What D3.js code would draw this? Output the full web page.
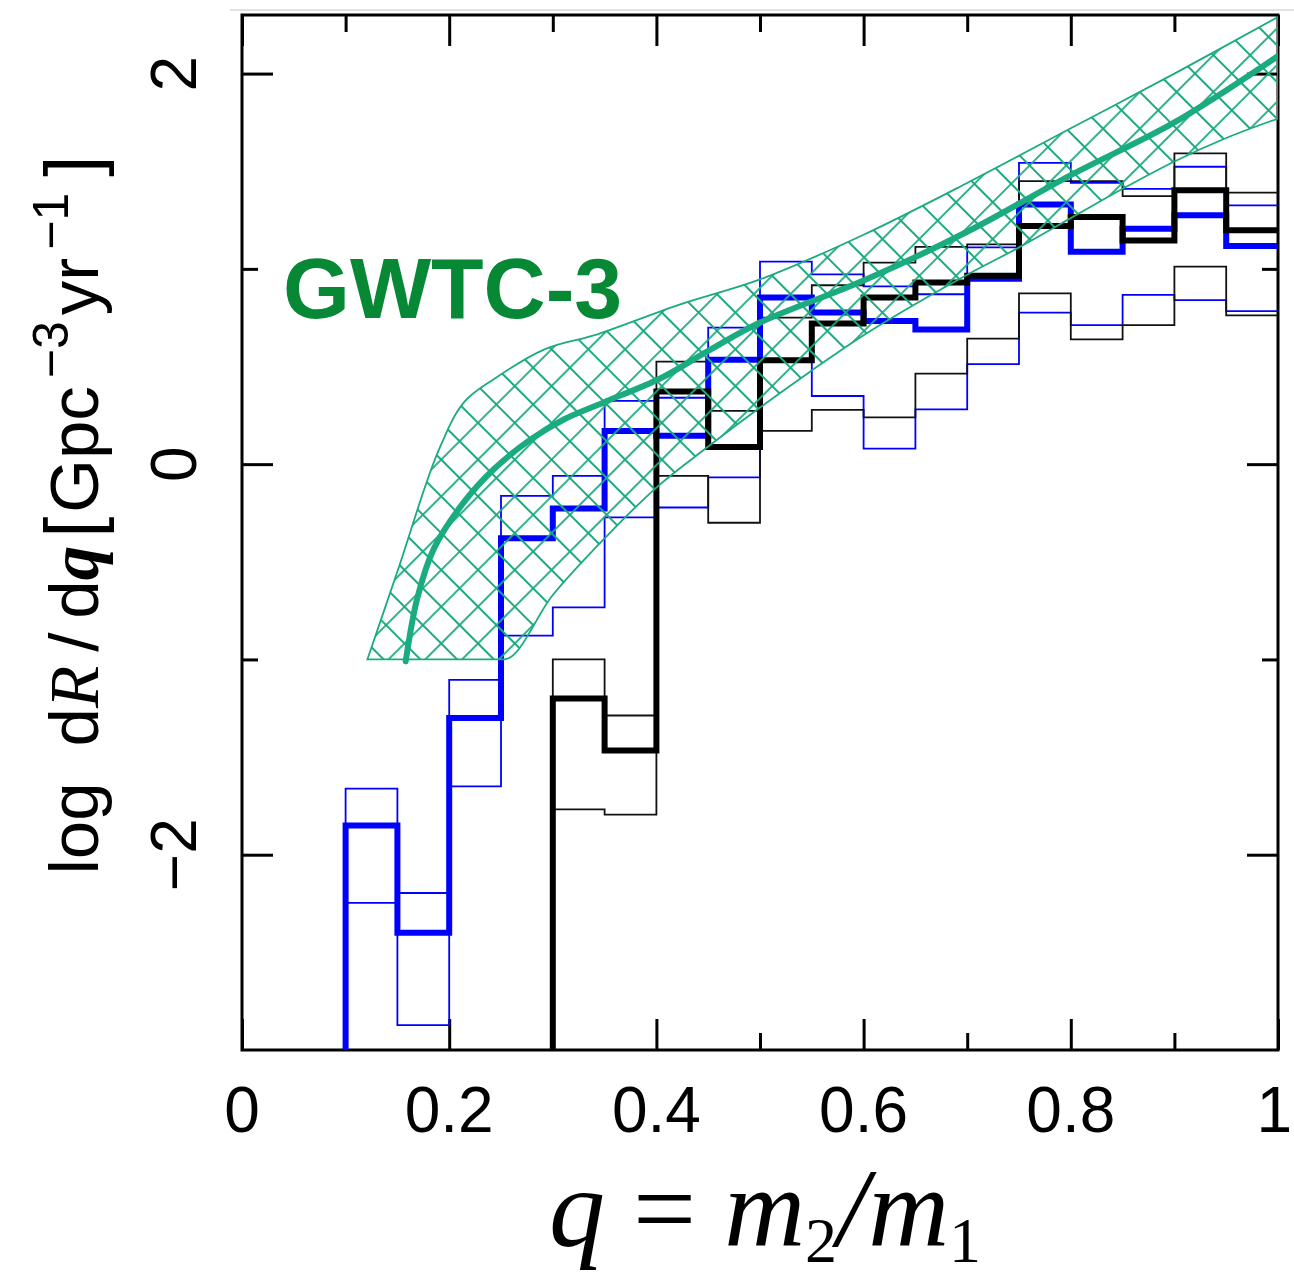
<!DOCTYPE html>
<html><head><meta charset="utf-8">
<script src="https://cdn.jsdelivr.net/npm/d3@7"></script>
<style>body{margin:0;background:#fff}svg{display:block}</style>
</head><body><svg id="c" width="1294" height="1278"></svg>
<script>
// ---------- data ----------
const binWidth = 0.05;
const blueBins = [0.10,0.15,0.20,0.25,0.30,0.35,0.40,0.45,0.50,0.55,0.60,0.65,0.70,0.75,0.80,0.85,0.90,0.95];
const blueMid  = [-1.85,-2.40,-1.30,-0.38,-0.227,0.17,0.145,0.534,0.853,0.776,0.733,0.69,0.95,1.33,1.088,1.205,1.274,1.117];
const blueHi   = [-1.662,-2.196,-1.105,-0.162,-0.06,0.324,0.34,0.699,1.037,0.972,0.91,0.87,1.11,1.543,1.44,1.41,1.523,1.325];
const blueLo   = [-2.247,-2.873,-1.65,-0.878,-0.733,-0.273,-0.222,-0.068,0.53,0.349,0.08,0.281,0.512,0.776,0.712,0.867,0.84,0.784];

const blackBins = [0.30,0.35,0.40,0.45,0.50,0.55,0.60,0.65,0.70,0.75,0.80,0.85,0.90,0.95];
const blackMid  = [-1.20,-1.466,0.372,0.088,0.532,0.72,0.853,0.93,0.965,1.219,1.265,1.145,1.403,1.198];
const blackHi   = [-1.0,-1.287,0.525,0.273,0.75,0.916,1.032,1.113,1.125,1.449,1.449,1.372,1.591,1.39];
const blackLo   = [-1.768,-1.795,-0.06,-0.30,0.17,0.278,0.24,0.464,0.643,0.875,0.639,0.712,1.011,0.762];

// GWTC-3 band
const bandUpQ = [0.121,0.15,0.189,0.214,0.243,0.292,0.343,0.423,0.5,0.6,0.7,0.8,0.9,1.0];
const bandUpV = [-1.0,-0.55,0.06,0.315,0.435,0.588,0.665,0.818,0.946,1.175,1.44,1.72,2.0,2.29];
const bandLoQ = [0.121,0.253,0.3,0.35,0.4,0.45,0.5,0.55,0.6,0.65,0.7,0.75,0.8,0.85,0.9,0.95,1.0];
const bandLoV = [-1.0,-1.0,-0.67,-0.38,-0.12,0.09,0.29,0.48,0.66,0.82,0.97,1.11,1.26,1.41,1.55,1.67,1.77];
const medQ = [0.158,0.169,0.185,0.214,0.243,0.279,0.311,0.349,0.404,0.45,0.5,0.6,0.7,0.8,0.9,1.0];
const medV = [-1.01,-0.69,-0.435,-0.196,-0.026,0.128,0.23,0.316,0.44,0.58,0.725,0.94,1.19,1.48,1.75,2.09];

const xMajor = [0,0.2,0.4,0.6,0.8,1];
const xMinor = [0.1,0.3,0.5,0.7,0.9];
const xLabels = ["0","0.2","0.4","0.6","0.8","1"];
const yMajor = [-2,0,2];
const yMinor = [-1,1];
const yLabels = ["\u22122","0","2"];

// ---------- chart ----------
const svg = d3.select("#c");
const L=242,R=1278,T=15,B=1050;
const x = d3.scaleLinear().domain([0,1]).range([L,R]);
const y = d3.scaleLinear().domain([-3,2.3]).range([B,T]);
const teal = "#1aab80";

const defs = svg.append("defs");
defs.append("clipPath").attr("id","clip").append("rect")
  .attr("x",L).attr("y",T).attr("width",R-L).attr("height",B-T);
const tile = 26;
const pat = defs.append("pattern").attr("id","hatch").attr("patternUnits","userSpaceOnUse")
  .attr("width",tile).attr("height",tile).attr("patternTransform","rotate(45)");
pat.append("path").attr("d",`M${tile/2},0V${tile}M0,${tile/2}H${tile}`).attr("stroke",teal).attr("stroke-width",1.8);

// faint top line
svg.append("line").attr("x1",230).attr("x2",1294).attr("y1",10).attr("y2",10)
  .attr("stroke","#e2e2e2").attr("stroke-width",2);

// ticks
function ticks(axis, tr, vals, size){
  svg.append("g").attr("transform",tr)
    .call(axis.tickValues(vals).tickSize(size).tickFormat(""))
    .call(g=>g.select(".domain").remove())
    .call(g=>g.selectAll("line").attr("stroke","#000").attr("stroke-width",3));
}
ticks(d3.axisBottom(x),`translate(0,${B})`,xMajor,-31);
ticks(d3.axisBottom(x),`translate(0,${B})`,xMinor,-17);
ticks(d3.axisTop(x),`translate(0,${T})`,xMajor,-31);
ticks(d3.axisTop(x),`translate(0,${T})`,xMinor,-17);
ticks(d3.axisLeft(y),`translate(${L},0)`,yMajor,-31);
ticks(d3.axisLeft(y),`translate(${L},0)`,yMinor,-16);
ticks(d3.axisRight(y),`translate(${R},0)`,yMajor,-31);
ticks(d3.axisRight(y),`translate(${R},0)`,yMinor,-16);

svg.append("rect").attr("x",L).attr("y",T).attr("width",R-L).attr("height",B-T)
  .attr("fill","none").attr("stroke","#000").attr("stroke-width",3);

// histograms
const plot = svg.append("g").attr("clip-path","url(#clip)");
const stepLine = d3.line().x(d=>x(d[0])).y(d=>y(d[1])).curve(d3.curveStepAfter);
function hist(bins, vals){
  const pts = [[bins[0], y.domain()[0]]];
  bins.forEach((b,i)=>pts.push([b, vals[i]]));
  pts.push([bins[bins.length-1]+binWidth, vals[vals.length-1]]);
  return stepLine(pts);
}
function drawHist(bins, vals, color, w){
  plot.append("path").attr("d",hist(bins,vals)).attr("fill","none")
    .attr("stroke",color).attr("stroke-width",w).attr("stroke-linejoin","miter");
}
drawHist(blueBins, blueHi, "#0000ff", 1.8);
drawHist(blueBins, blueLo, "#0000ff", 1.8);
drawHist(blackBins, blackHi, "#111", 1.8);
drawHist(blackBins, blackLo, "#111", 1.8);
drawHist(blueBins, blueMid, "#0000ff", 6);
drawHist(blackBins, blackMid, "#000", 6);

// band
const smooth = d3.line().x(d=>x(d[0])).y(d=>y(d[1])).curve(d3.curveMonotoneX);
const smoothCR = d3.line().x(d=>x(d[0])).y(d=>y(d[1])).curve(d3.curveCatmullRom.alpha(0.5));
const upPts = bandUpQ.map((q,i)=>[q,bandUpV[i]]);
const loPts = bandLoQ.map((q,i)=>[q,bandLoV[i]]).reverse();
const bandD = smoothCR(upPts) + smooth(loPts).replace(/^M/,"L") + "Z";
plot.append("path").attr("d",bandD).attr("fill","url(#hatch)")
  .attr("stroke",teal).attr("stroke-width",1.8);
plot.append("path").attr("d",smoothCR(medQ.map((q,i)=>[q,medV[i]])))
  .attr("fill","none").attr("stroke",teal).attr("stroke-width",6).attr("stroke-linecap","round");

// tick labels
svg.append("g").selectAll("text").data(xMajor).join("text")
  .attr("x",d=>d===1 ? 1292 : x(d)).attr("y",1132)
  .attr("text-anchor",d=>d===1 ? "end" : "middle")
  .attr("font-family","'Liberation Sans', Arial, sans-serif").attr("font-size",64)
  .text((d,i)=>xLabels[i]);
svg.append("g").selectAll("text").data(yMajor).join("text")
  .attr("transform",d=>`translate(196,${y(d)}) rotate(-90)`).attr("text-anchor","middle")
  .attr("font-family","'Liberation Sans', Arial, sans-serif").attr("font-size",64)
  .text((d,i)=>yLabels[i]);

// y label
const yl = svg.append("text").attr("transform","translate(98,515) rotate(-90)")
  .attr("text-anchor","middle").attr("font-family","'Liberation Sans', Arial, sans-serif")
  .attr("font-size",69);
yl.append("tspan").text("log");
yl.append("tspan").attr("dx",36).text("d");
yl.append("tspan").attr("font-style","italic").attr("font-family","'Liberation Serif', serif").text("R");
yl.append("tspan").attr("dx",14).text("/");
yl.append("tspan").attr("dx",14).text("d");
yl.append("tspan").attr("font-style","italic").attr("font-weight","bold").attr("font-family","'Liberation Serif', serif").text("q");
yl.append("tspan").attr("font-size",76).attr("dx",8).text("[");
yl.append("tspan").attr("dx",4).text("Gpc");
yl.append("tspan").attr("font-size",50).attr("dy",-30).attr("dx",8).text("\u22123");
yl.append("tspan").attr("dy",30).attr("dx",6).text("yr");
yl.append("tspan").attr("font-size",50).attr("dy",-30).attr("dx",8).text("\u22121");
yl.append("tspan").attr("font-size",76).attr("dy",30).attr("dx",16).text("]");

// x title
const xt = svg.append("text").attr("x",765).attr("y",1246).attr("text-anchor","middle")
  .attr("font-family","'Liberation Serif', 'Times New Roman', serif").attr("font-size",112);
xt.append("tspan").attr("font-style","italic").text("q");
xt.append("tspan").text(" = ");
xt.append("tspan").attr("font-style","italic").text("m");
xt.append("tspan").attr("font-size",64).attr("dy",16).text("2");
xt.append("tspan").attr("font-style","italic").attr("dy",-16).text("/m");
xt.append("tspan").attr("font-size",64).attr("dy",16).text("1");

// GWTC-3 label
svg.append("text").attr("x",283).attr("y",318)
  .attr("font-family","'Liberation Sans', Arial, sans-serif").attr("font-weight","bold")
  .attr("font-size",86).attr("fill","#078834").text("GWTC-3");
</script></body></html>
